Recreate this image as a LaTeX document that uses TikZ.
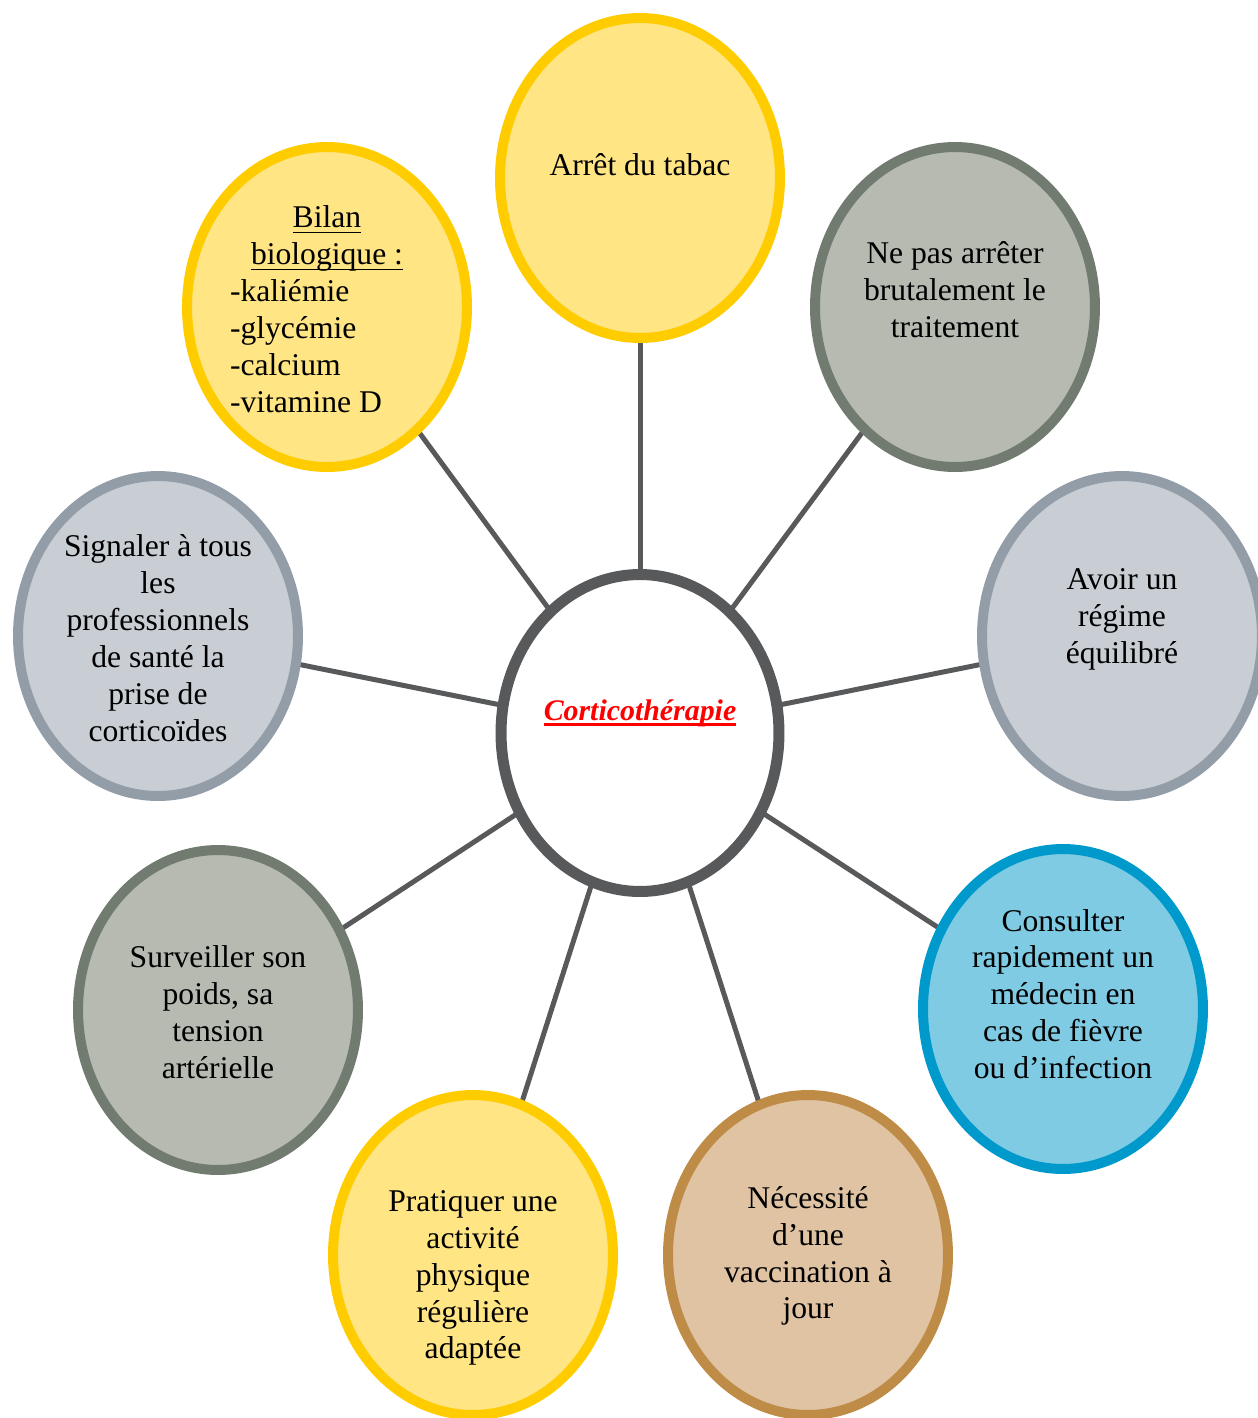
\documentclass[tikz,border=0pt]{standalone}
\usepackage{fontspec}
\setmainfont{Liberation Serif}
\usetikzlibrary{calc,backgrounds,shapes.geometric}
\definecolor{yelF}{HTML}{FFE583}
\definecolor{yelB}{HTML}{FFCC00}
\definecolor{sageF}{HTML}{B6BAB1}
\definecolor{sageB}{HTML}{717B6F}
\definecolor{slateF}{HTML}{C9CED5}
\definecolor{slateB}{HTML}{939DA8}
\definecolor{skyF}{HTML}{7FCBE4}
\definecolor{skyB}{HTML}{0099CC}
\definecolor{tanF}{HTML}{DFC3A3}
\definecolor{tanB}{HTML}{BF8C47}
\definecolor{hubgray}{HTML}{58595B}
\tikzset{
  bubble/.style={ellipse, minimum width=5.6cm, minimum height=6.4cm,
                 line width=0.2cm, inner sep=0pt},
  yel/.style  ={bubble, draw=yelB, fill=yelF},
  sage/.style ={bubble, draw=sageB, fill=sageF},
  slate/.style={bubble, draw=slateB, fill=slateF},
  sky/.style  ={bubble, draw=skyB, fill=skyF},
  tan/.style  ={bubble, draw=tanB, fill=tanF},
  hub/.style  ={ellipse, minimum width=5.56cm, minimum height=6.34cm,
                line width=0.22cm, inner sep=0pt, draw=hubgray, fill=white},
  txt/.style  ={align=center, inner sep=0pt, font=\fontsize{18}{21}\selectfont},
  spoke/.style={draw=hubgray, line width=0.1cm},
}
% one line of the list, left-aligned inside a centred block
\newcommand\listline[1]{\makebox[3.88cm][l]{#1}}
% underline drawn in the current colour
\newcommand\ulbar[2][0.9pt]{\setbox0\hbox{#2}\rlap{\rule[-3.2pt]{\wd0}{#1}}\box0}

\begin{document}
\begin{tikzpicture}[x=0.02cm,y=-0.02cm]
\useasboundingbox (0,0) rectangle (1258,1418);
% --- bubbles ---
\node[hub]   (cortico)   at (640,733)  {};
\node[yel]   (tabac)     at (640,178)  {};
\node[sage]  (npas)      at (955,307)  {};
\node[slate] (regime)    at (1122,636) {};
\node[sky]   (consulter) at (1063,1009){};
\node[tan]   (vaccin)    at (808,1255) {};
\node[yel]   (sport)     at (473,1255) {};
\node[sage]  (poids)     at (218,1010) {};
\node[slate] (signaler)  at (158,636)  {};
\node[yel]   (bilan)     at (327,307)  {};
% --- spokes ---
\begin{scope}[on background layer]
  \foreach \n in {tabac,npas,regime,consulter,vaccin,sport,poids,signaler,bilan}
    {\draw[spoke] (cortico.center) -- (\n.center);}
\end{scope}
% --- texts ---
\node[txt,font=\fontsize{17}{21}\selectfont\bfseries\itshape,text=red] (cortico-t)
  at ($(cortico)+(0,-20)$) {\ulbar[1.4pt]{Corticothérapie}};
\node[txt] (tabac-t) at ($(tabac)+(0,-13)$) {Arrêt du tabac};
\node[txt] (npas-t) at ($(npas)+(0,-17)$) {Ne pas arrêter\\brutalement le\\traitement};
\node[txt] (regime-t) at ($(regime)+(0,-17)$) {Avoir un\\régime\\équilibré};
\node[txt] (consulter-t) at ($(consulter)+(0,-15)$)
  {Consulter\\rapidement un\\médecin en\\cas de fièvre\\ou d’infection};
\node[txt] (vaccin-t) at ($(vaccin)+(0,1)$) {Nécessité\\d’une\\vaccination à\\jour};
\node[txt] (sport-t) at ($(sport)+(0,23)$)
  {Pratiquer une\\activité\\physique\\régulière\\adaptée};
\node[txt] (poids-t) at ($(poids)+(0,2)$) {Surveiller son\\poids, sa\\tension\\artérielle};
\node[txt] (signaler-t) at ($(signaler)+(0,2)$)
  {Signaler à tous\\les\\professionnels\\de santé la\\prise de\\corticoïdes};
\node[txt] (bilan-t) at ($(bilan)+(0,2)$)
  {\ulbar{Bilan}\\\ulbar{biologique :}\\\listline{-kaliémie}\\\listline{-glycémie}\\
   \listline{-calcium}\\\listline{-vitamine D}};
\end{tikzpicture}
\end{document}
